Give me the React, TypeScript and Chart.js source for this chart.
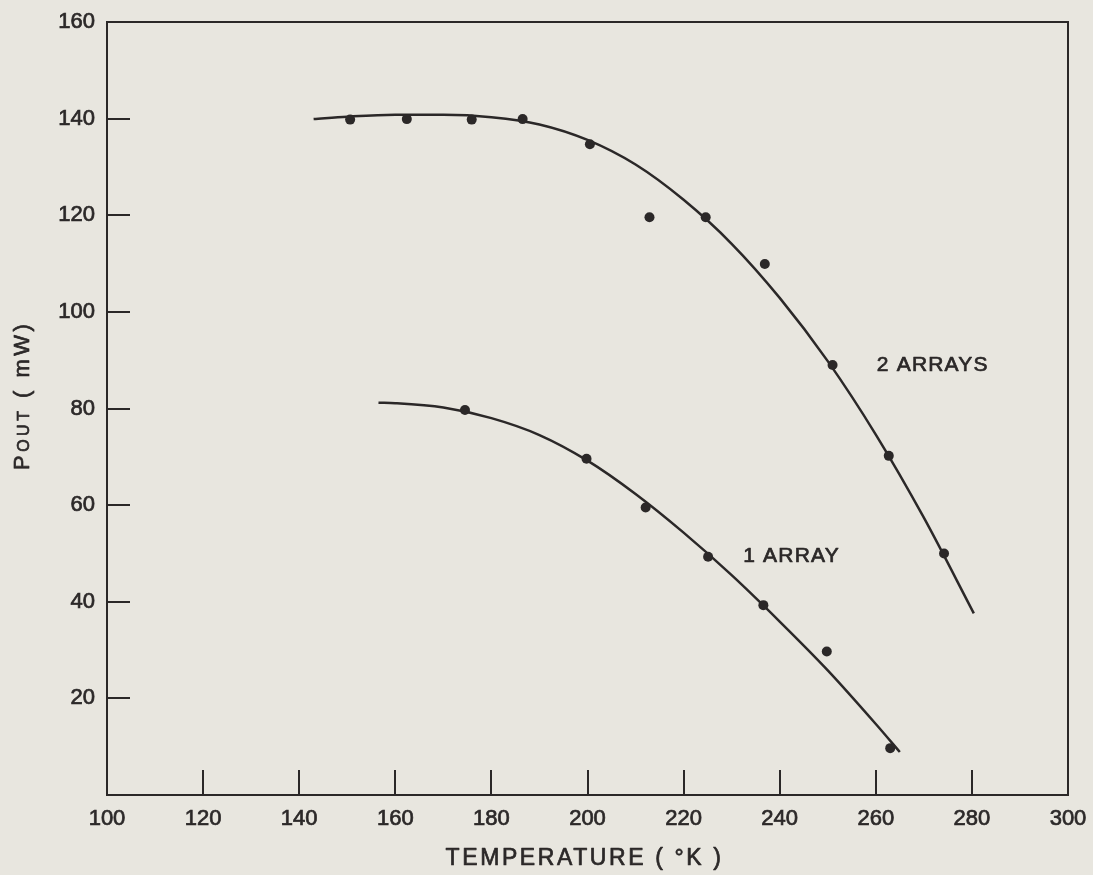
import React, { useEffect, useRef } from "react";
import { Chart, registerables } from "chart.js";

Chart.register(...registerables);

// ---- data ----
const tempTicks = [100, 120, 140, 160, 180, 200, 220, 240, 260, 280, 300];
const powerTicks = [0, 20, 40, 60, 80, 100, 120, 140, 160];

// measured points, 2 arrays
const twoArrayT = [150.6, 162.4, 175.9, 186.5, 200.5, 212.9, 224.6, 236.9, 251, 262.7, 274.2];
const twoArrayP = [139.8, 139.9, 139.8, 139.9, 134.7, 119.6, 119.6, 109.9, 89, 70.2, 50];
// fitted curve, 2 arrays
const twoCurveT = [143, 150, 160, 170, 180, 190, 200, 210, 220, 230, 240, 250, 260, 270, 280.4];
const twoCurveP = [139.9, 140.4, 140.8, 140.8, 140.3, 138.8, 135.6, 130.5, 123.2, 114.1, 102.9, 89.8, 74.6, 57.4, 37.6];

// measured points, 1 array
const oneArrayT = [174.5, 199.8, 212.1, 225.1, 236.6, 249.8, 263];
const oneArrayP = [79.7, 69.6, 59.5, 49.3, 39.3, 29.7, 9.7];
// fitted curve, 1 array
const oneCurveT = [156.5, 160, 170, 180, 190, 200, 210, 220, 230, 240, 250, 260, 265];
const oneCurveP = [81.2, 81.1, 80.2, 78.0, 74.5, 69.2, 62.3, 54.3, 45.5, 35.9, 25.8, 14.7, 8.9];

const annoTwo = { text: "2 ARRAYS", t: 260.2, p: 88.9 };
const annoOne = { text: "1 ARRAY", t: 232.4, p: 49.5 };

const X_TITLE = "TEMPERATURE ( °K )";
const Y_TITLE_PARTS: [string, number][] = [["P", 22], ["OUT", 16], [" ( mW)", 22]];

// ---- styling ----
const INK = "#2b2828";
const BG = "#e8e6df";
const FAMILY = '"Liberation Sans", Arial, sans-serif';
const STROKE = 0.7;

const toXY = (xs: number[], ys: number[]) => xs.map((x, i) => ({ x, y: ys[i] }));

function drawText(ctx: CanvasRenderingContext2D, t: string, x: number, y: number) {
  ctx.fillText(t, x, y);
  ctx.strokeText(t, x, y);
}

const textPlugin = {
  id: "textPlugin",
  afterDraw(chart: any) {
    const ctx = chart.ctx as CanvasRenderingContext2D;
    const { chartArea } = chart;
    const xs = chart.scales.x;
    const ys = chart.scales.y;
    ctx.save();
    // frame
    ctx.strokeStyle = INK;
    ctx.lineWidth = 2;
    ctx.strokeRect(chartArea.left, chartArea.top, chartArea.right - chartArea.left, chartArea.bottom - chartArea.top);

    ctx.fillStyle = INK;
    ctx.lineWidth = STROKE;
    ctx.lineJoin = "round";
    // annotations
    (ctx as any).letterSpacing = "1.2px";
    ctx.font = `21px ${FAMILY}`;
    ctx.textAlign = "left";
    ctx.textBaseline = "middle";
    for (const a of [annoTwo, annoOne]) {
      drawText(ctx, a.text, xs.getPixelForValue(a.t), ys.getPixelForValue(a.p));
    }

    // x title
    (ctx as any).letterSpacing = "2.6px";
    ctx.font = `23px ${FAMILY}`;
    ctx.textAlign = "center";
    drawText(ctx, X_TITLE, (chartArea.left + chartArea.right) / 2 - 3, 859);

    // y title (rotated, mixed sizes)
    (ctx as any).letterSpacing = "3.5px";
    ctx.translate(29, 470);
    ctx.rotate(-Math.PI / 2);
    ctx.textAlign = "left";
    ctx.textBaseline = "alphabetic";
    let pos = 0;
    for (const [t, s] of Y_TITLE_PARTS) {
      ctx.font = `${s}px ${FAMILY}`;
      drawText(ctx, t, pos, 0);
      pos += ctx.measureText(t).width;
    }
    ctx.restore();
  },
};

export default function App() {
  const ref = useRef<HTMLCanvasElement>(null);
  useEffect(() => {
    const pointStyle = {
      showLine: false,
      pointRadius: 5,
      pointBackgroundColor: INK,
      pointBorderColor: INK,
      pointBorderWidth: 0,
    };
    const curveStyle = {
      showLine: true,
      pointRadius: 0,
      borderColor: INK,
      borderWidth: 2.5,
      cubicInterpolationMode: "monotone" as const,
      fill: false,
    };
    const tickFont = { family: FAMILY, size: 22 };
    const chart = new Chart(ref.current!, {
      type: "line",
      data: {
        datasets: [
          { label: "2 arrays (data)", data: toXY(twoArrayT, twoArrayP), ...pointStyle },
          { label: "1 array (data)", data: toXY(oneArrayT, oneArrayP), ...pointStyle },
          { label: "2 arrays (fit)", data: toXY(twoCurveT, twoCurveP), ...curveStyle },
          { label: "1 array (fit)", data: toXY(oneCurveT, oneCurveP), ...curveStyle },
        ] as any,
      },
      options: {
        responsive: false,
        animation: false,
        events: [],
        layout: { autoPadding: false, padding: { left: 0, top: 22, right: 25, bottom: 0 } },
        plugins: { legend: { display: false }, tooltip: { enabled: false } },
        scales: {
          x: {
            type: "linear",
            position: "bottom",
            min: 100,
            max: 300,
            afterBuildTicks: (s: any) => {
              s.ticks = tempTicks.map((v) => ({ value: v }));
            },
            afterFit: (s: any) => {
              s.height = 80;
              s.paddingLeft = 0;
              s.paddingRight = 0;
              s.paddingTop = 0;
              s.paddingBottom = 0;
            },
            border: { display: false },
            grid: {
              drawOnChartArea: false,
              drawTicks: true,
              tickLength: -25,
              lineWidth: 2,
              color: (c: any) =>
                c.tick && (c.tick.value === 100 || c.tick.value === 300) ? "rgba(0,0,0,0)" : INK,
            },
            ticks: {
              padding: 36,
              color: INK,
              maxRotation: 0,
              autoSkip: false,
              font: tickFont,
              textStrokeColor: INK,
              textStrokeWidth: STROKE,
              callback: (v: any) => String(v),
            },
          },
          y: {
            type: "linear",
            position: "left",
            min: 0,
            max: 160,
            afterBuildTicks: (s: any) => {
              s.ticks = powerTicks.map((v) => ({ value: v }));
            },
            afterFit: (s: any) => {
              s.width = 107;
              s.paddingLeft = 0;
              s.paddingRight = 0;
              s.paddingTop = 0;
              s.paddingBottom = 0;
            },
            border: { display: false },
            grid: {
              drawOnChartArea: false,
              drawTicks: true,
              tickLength: -23,
              lineWidth: 2,
              color: (c: any) =>
                c.tick && (c.tick.value === 0 || c.tick.value === 160) ? "rgba(0,0,0,0)" : INK,
            },
            ticks: {
              padding: 35,
              color: INK,
              autoSkip: false,
              font: tickFont,
              textStrokeColor: INK,
              textStrokeWidth: STROKE,
              callback: (v: any) => (v === 0 ? "" : String(v)),
            },
          },
        },
      },
      plugins: [textPlugin],
    });
    return () => chart.destroy();
  }, []);

  return (
    <div style={{ position: "fixed", left: 0, top: 0, width: 1093, height: 875, background: BG }}>
      <canvas ref={ref} width={1093} height={875} style={{ display: "block", width: 1093, height: 875 }} />
    </div>
  );
}
